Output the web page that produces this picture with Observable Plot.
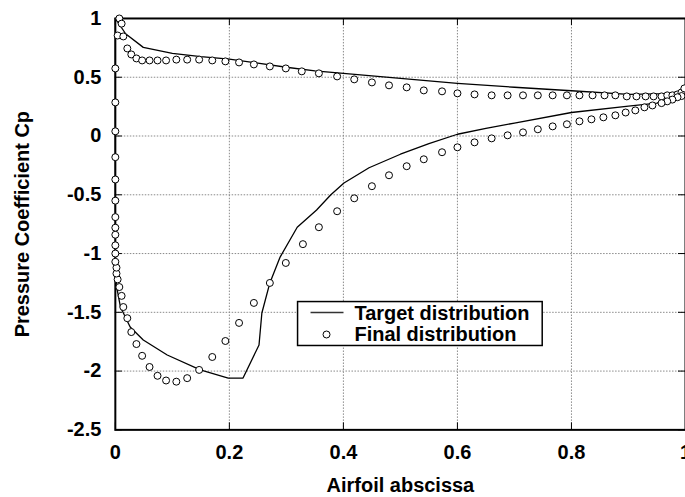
<!DOCTYPE html>
<html>
<head>
<meta charset="utf-8">
<script src="https://cdn.jsdelivr.net/npm/d3@7"></script>
<script src="https://cdn.jsdelivr.net/npm/@observablehq/plot@0.6"></script>
<style>
  html, body { margin: 0; padding: 0; background: #fff; overflow: hidden; }
  #chart { width: 685px; height: 497px; overflow: hidden; }
</style>
</head>
<body>
<div id="chart"></div>
<script>
// Target distribution (solid line): upper surface TE -> LE, then lower surface LE -> TE
const targetX = [1.0, 0.97, 0.9, 0.8, 0.7, 0.6, 0.5, 0.4, 0.35, 0.3, 0.25, 0.2, 0.15, 0.1, 0.049, 0.018, 0.0,
  0.0, 0.003, 0.009, 0.026, 0.049, 0.091, 0.149, 0.198, 0.224, 0.252, 0.257, 0.271, 0.289, 0.319, 0.353, 0.378, 0.401,
  0.445, 0.5, 0.55, 0.6, 0.65, 0.7, 0.8, 0.9, 0.95, 1.0];
const targetCp = [0.39, 0.36, 0.355, 0.385, 0.415, 0.448, 0.49, 0.533, 0.555, 0.585, 0.62, 0.655, 0.675, 0.703, 0.754, 0.87, 1.0,
  -1.2, -1.3, -1.455, -1.625, -1.736, -1.863, -1.99, -2.059, -2.059, -1.778, -1.506, -1.25, -1.03, -0.776, -0.63, -0.5, -0.4,
  -0.27, -0.155, -0.065, 0.015, 0.065, 0.11, 0.2, 0.255, 0.28, 0.37];

// Final distribution (circles)
const finalX = [0.007, 0.011, 0.004, 0.014, 0.021, 0.028, 0.037, 0.047, 0.06, 0.074, 0.089, 0.107, 0.126, 0.147, 0.17,
  0.193, 0.217, 0.243, 0.271, 0.299, 0.327, 0.357, 0.389, 0.419, 0.45, 0.48, 0.511, 0.541, 0.573, 0.6, 0.63, 0.66,
  0.688, 0.715, 0.741, 0.767, 0.792, 0.814, 0.837, 0.858, 0.877, 0.897, 0.914, 0.93, 0.944, 0.958, 0.968, 0.977,
  0.986, 0.993, 0.998,
  0.993, 0.986, 0.977, 0.968, 0.958, 0.942, 0.928, 0.912, 0.895, 0.877, 0.856, 0.835, 0.814, 0.792, 0.767, 0.741,
  0.715, 0.688, 0.66, 0.63, 0.6, 0.573, 0.541, 0.511, 0.48, 0.45, 0.419, 0.389, 0.357, 0.329, 0.299, 0.271, 0.243,
  0.217, 0.193, 0.17, 0.147, 0.126, 0.107, 0.089, 0.074, 0.06, 0.047, 0.037, 0.028, 0.021, 0.014, 0.011, 0.007,
  0.004, 0.002, 0.002, 0.0, 0.0, 0.0, 0.0, 0.0, 0.0, 0.0, 0.0, 0.0, 0.0, 0.0, 0.0];
const finalCp = [1.0, 0.956, 0.855, 0.847, 0.745, 0.694, 0.66, 0.643, 0.643, 0.643, 0.643, 0.65, 0.65, 0.65, 0.643,
  0.635, 0.626, 0.609, 0.592, 0.575, 0.55, 0.533, 0.507, 0.482, 0.456, 0.431, 0.414, 0.388, 0.38, 0.363, 0.354, 0.346,
  0.346, 0.346, 0.346, 0.346, 0.346, 0.346, 0.346, 0.346, 0.346, 0.337, 0.337, 0.337, 0.337, 0.337, 0.346, 0.346,
  0.354, 0.371, 0.405,
  0.34, 0.33, 0.31, 0.295, 0.28, 0.26, 0.244, 0.218, 0.2, 0.176, 0.159, 0.142, 0.125, 0.1, 0.082, 0.057,
  0.031, 0.006, -0.02, -0.054, -0.096, -0.138, -0.198, -0.257, -0.334, -0.427, -0.53, -0.64, -0.776, -0.92, -1.08, -1.25, -1.42,
  -1.59, -1.744, -1.88, -1.99, -2.06, -2.09, -2.08, -2.04, -1.965, -1.87, -1.77, -1.668, -1.55, -1.455, -1.36, -1.285,
  -1.22, -1.17, -1.12, -1.07, -1.0, -0.93, -0.84, -0.78, -0.69, -0.55, -0.37, -0.18, 0.04, 0.286, 0.575];

const xTicks = [0, 0.2, 0.4, 0.6, 0.8, 1];
const yTicks = [1, 0.5, 0, -0.5, -1, -1.5, -2, -2.5];
const xGrid = [0.2, 0.4, 0.6, 0.8];
const yGrid = [0.5, 0, -0.5, -1, -1.5, -2];
const seriesNames = ["Target distribution", "Final distribution"];
const xTitle = "Airfoil abscissa";
const yTitle = "Pressure Coefficient Cp";

const target = targetX.map((x, i) => ({x, cp: targetCp[i]}));
const finals = finalX.map((x, i) => ({x, cp: finalCp[i]}));

const FONT = "'Liberation Sans', Arial, Helvetica, sans-serif";

const plot = Plot.plot({
  width: 686,
  height: 497,
  marginLeft: 115,
  marginRight: 0,
  marginTop: 18,
  marginBottom: 67,
  style: {fontFamily: FONT, background: "#fff", overflow: "visible"},
  x: {domain: [0, 1]},
  y: {domain: [-2.5, 1]},
  marks: [
    Plot.gridX(xGrid, {stroke: "#8a8a8a", strokeOpacity: 1, strokeWidth: 1, strokeDasharray: "1.5,1.5"}),
    Plot.gridY(yGrid, {stroke: "#8a8a8a", strokeOpacity: 1, strokeWidth: 1, strokeDasharray: "1.5,1.5"}),
    // inward ticks
    Plot.tickX(xTicks, {x: d => d, stroke: "#000", strokeWidth: 1, insetTop: 405}),
    Plot.tickX(xTicks, {x: d => d, stroke: "#000", strokeWidth: 1, insetBottom: 405}),
    Plot.tickY(yTicks, {y: d => d, stroke: "#000", strokeWidth: 1, insetRight: 564}),
    Plot.tickY(yTicks, {y: d => d, stroke: "#000", strokeWidth: 1, insetLeft: 564}),
    Plot.frame({stroke: "#000", strokeWidth: 2}),
    Plot.axisX({ticks: xTicks, tickSize: 0, tickPadding: 15, tickFormat: d => String(d),
      fontSize: 20, fontWeight: "bold", fill: "#000", label: null}),
    Plot.axisY({ticks: yTicks, tickSize: 0, tickPadding: 14, tickFormat: d => String(d),
      fontSize: 20, fontWeight: "bold", fill: "#000", label: null}),
    Plot.line(target, {x: "x", y: "cp", stroke: "#000", strokeWidth: 1.3}),
    Plot.dot(finals, {x: "x", y: "cp", r: 3.5, stroke: "#000", strokeWidth: 1, fill: "#fff"}),
    Plot.text([xTitle], {frameAnchor: "bottom", dy: 48, lineAnchor: "top", text: d => d,
      fontSize: 20, fontWeight: "bold", fill: "#000"}),
    Plot.text([yTitle], {frameAnchor: "left", dx: -93, rotate: -90, textAnchor: "middle", lineAnchor: "middle",
      text: d => d, fontSize: 20, fontWeight: "bold", fill: "#000"})
  ]
});

document.getElementById("chart").appendChild(plot);

// Legend box inside the plot area
const svg = d3.select(plot);
const lg = svg.append("g").attr("font-family", FONT).attr("text-anchor", "start");
lg.append("rect").attr("x", 298).attr("y", 302).attr("width", 245).attr("height", 44)
  .attr("fill", "#fff").attr("stroke", "#000").attr("stroke-width", 1.5);
lg.append("line").attr("x1", 311).attr("x2", 344).attr("y1", 313).attr("y2", 313)
  .attr("stroke", "#333").attr("stroke-width", 1.5);
lg.append("circle").attr("cx", 327).attr("cy", 335).attr("r", 3.5)
  .attr("fill", "#fff").attr("stroke", "#000").attr("stroke-width", 1);
seriesNames.forEach((name, i) => {
  lg.append("text").attr("x", 355).attr("y", 313 + i * 22).attr("dy", "0.35em")
    .attr("text-anchor", "start")
    .attr("font-size", 20).attr("font-weight", "bold").attr("fill", "#000").text(name);
});
</script>
</body>
</html>
